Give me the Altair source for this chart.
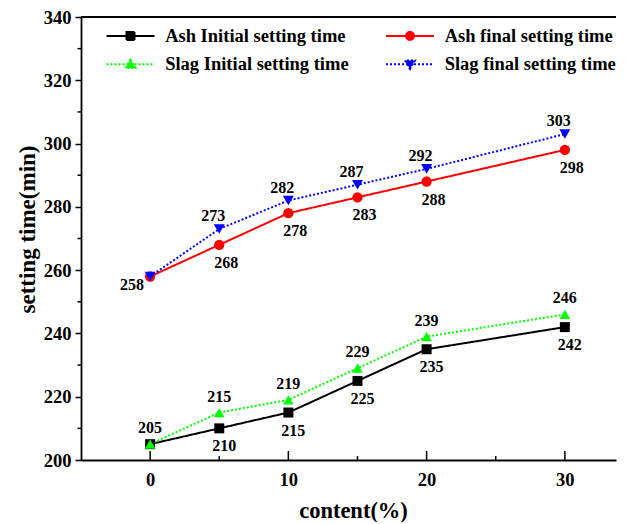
import altair as alt
import pandas as pd

# ---- data ----
content = [0, 5, 10, 15, 20, 30]
ash_initial = [205, 210, 215, 225, 235, 242]
ash_final = [258, 268, 278, 283, 288, 298]
slag_initial = [205, 215, 219, 229, 239, 246]
slag_final = [258, 273, 282, 287, 292, 303]

series_names = ["Ash Initial setting time", "Ash final setting time",
                "Slag Initial setting time", "Slag final setting time"]
series_values = [ash_initial, ash_final, slag_initial, slag_final]
series_colors = ["#000000", "#FF0000", "#00FF00", "#0000FF"]

x_ticks = [0, 10, 20, 30]
x_minor = [5, 15, 25]
y_ticks = [200, 220, 240, 260, 280, 300, 320, 340]
y_minor = [210, 230, 250, 270, 290, 310, 330]

rows = []
for name, vals in zip(series_names, series_values):
    for c, v in zip(content, vals):
        rows.append({"series": name, "content": c, "time": v})
df = pd.DataFrame(rows)

FONT = "Liberation Serif"
W, H = 535, 443

xscale = alt.Scale(domain=[-5, 33.7], nice=False, zero=False)
yscale = alt.Scale(domain=[200, 340], nice=False, zero=False)

x_axis = alt.Axis(values=x_ticks, title="content(%)", tickSize=0, labelPadding=19,
                  labelBaseline="middle", titleY=50, titleX=272, titleBaseline="middle",
                  titleFontSize=22.5)
y_axis = alt.Axis(values=y_ticks, title="setting time(min)", tickSize=6, labelPadding=4,
                  titleX=-54, titleY=212, titleBaseline="middle", titleFontSize=23)

x_enc = alt.X("content:Q", scale=xscale, axis=x_axis)
y_enc = alt.Y("time:Q", scale=yscale, axis=y_axis)
x_plain = alt.X("content:Q", scale=xscale)
y_plain = alt.Y("time:Q", scale=yscale)

color_scale = alt.Scale(domain=series_names, range=series_colors)
dash_scale = alt.Scale(domain=series_names, range=[[1, 0], [1, 0], [2, 2], [2, 2]])
shape_scale = alt.Scale(domain=series_names,
                        range=["square", "circle", "triangle-up", "triangle-down"])
size_scale = alt.Scale(domain=series_names, range=[100, 121, 169, 169])

lines = alt.Chart(df).mark_line(strokeWidth=2).encode(
    x=x_enc, y=y_enc,
    color=alt.Color("series:N", scale=color_scale, legend=None),
    strokeDash=alt.StrokeDash("series:N", scale=dash_scale, legend=None),
)

points = alt.Chart(df).mark_point(filled=True, opacity=1).encode(
    x=x_plain, y=y_plain,
    color=alt.Color("series:N", scale=color_scale, legend=None),
    shape=alt.Shape("series:N", scale=shape_scale, legend=None),
    size=alt.Size("series:N", scale=size_scale, legend=None),
)

# legend symbols: line segment with marker in the middle (path units = 2 px)
legend_paths = [
    "M-12,0L12,0M-2,-2L2,-2L2,2L-2,2Z",
    "M-12,0L12,0M-2,0A2,2 0 1,0 2,0A2,2 0 1,0 -2,0Z",
    "M-12,0L12,0M0,-2.4L2.5,1.9L-2.5,1.9Z",
    "M-12,0L12,0M0,2.4L2.5,-1.9L-2.5,-1.9Z",
]
leg = alt.Legend(title=None, orient="none", legendX=40.25, legendY=9.5, columns=2,
                 direction="horizontal",
                 symbolSize=16, symbolStrokeWidth=2, labelFont=FONT,
                 labelFontSize=18.5, labelFontWeight="bold", labelColor="black",
                 labelLimit=400, labelOffset=25.4, rowPadding=9.5, columnPadding=32.5,
                 padding=0)
legend_df = pd.DataFrame({"series": series_names})
legend_layer = alt.Chart(legend_df).mark_point(filled=True, opacity=1, clip=True).encode(
    x=alt.value(-300), y=alt.value(-300),
    fill=alt.Fill("series:N", scale=alt.Scale(domain=series_names, range=series_colors), legend=leg),
    stroke=alt.Stroke("series:N", scale=alt.Scale(domain=series_names, range=series_colors), legend=leg),
    shape=alt.Shape("series:N", scale=alt.Scale(domain=series_names, range=legend_paths), legend=leg),
    strokeDash=alt.StrokeDash("series:N", scale=alt.Scale(domain=series_names,
                              range=[[1, 0], [1, 0], [2, 2], [2, 2]]), legend=leg),
)

def label_layer(name, dx, dy, cond):
    return alt.Chart(df).transform_filter(
        (alt.datum.series == name) & cond
    ).mark_text(dx=dx, dy=dy, font=FONT, fontSize=16, fontWeight="bold",
                color="black", baseline="middle").encode(
        x=x_plain, y=y_plain, text="time:Q")

lab_si = label_layer(series_names[2], 0, -16, alt.datum.content >= 0)
lab_ai = label_layer(series_names[0], 5, 18, alt.datum.content > 0)
lab_af = label_layer(series_names[1], 7, 18, alt.datum.content > 0)
lab_af0 = label_layer(series_names[1], -18, 9, alt.datum.content == 0)
lab_sf = label_layer(series_names[3], -6, -13, alt.datum.content > 0)

# inward ticks on the x axis, minor ticks on y, top frame line
xt_major = alt.Chart(pd.DataFrame({"content": x_ticks})).mark_rule(color="black", strokeWidth=1.5).encode(
    x=x_plain, y=alt.value(H), y2=alt.value(H - 9))
xt_minor = alt.Chart(pd.DataFrame({"content": x_minor})).mark_rule(color="black", strokeWidth=1.5).encode(
    x=x_plain, y=alt.value(H), y2=alt.value(H - 4))
yt_minor = alt.Chart(pd.DataFrame({"time": y_minor})).mark_rule(color="black", strokeWidth=1.5).encode(
    y=y_plain, x=alt.value(0), x2=alt.value(-3.5))
top_line = alt.Chart(pd.DataFrame({"a": [0]})).mark_rule(color="black", strokeWidth=1.8).encode(
    y=alt.value(0), x=alt.value(0), x2=alt.value(W))

chart = alt.layer(
    lines, points, legend_layer,
    lab_si, lab_ai, lab_af, lab_af0, lab_sf,
    xt_major, xt_minor, yt_minor, top_line,
).resolve_scale(
    shape="independent", strokeDash="independent", fill="independent", stroke="independent"
).properties(
    width=W, height=H,
    padding={"left": 8, "top": 0, "right": 0, "bottom": 0},
    background="white",
).configure_view(stroke=None).configure_axis(
    grid=False, domainColor="black", domainWidth=1.8, tickColor="black", tickWidth=1.5,
    labelFont=FONT, labelFontSize=18.5, labelFontWeight="bold", labelColor="black",
    titleFont=FONT, titleFontWeight="bold", titleColor="black",
)

chart.save("out.html", embed_options={"renderer": "svg", "actions": False})
